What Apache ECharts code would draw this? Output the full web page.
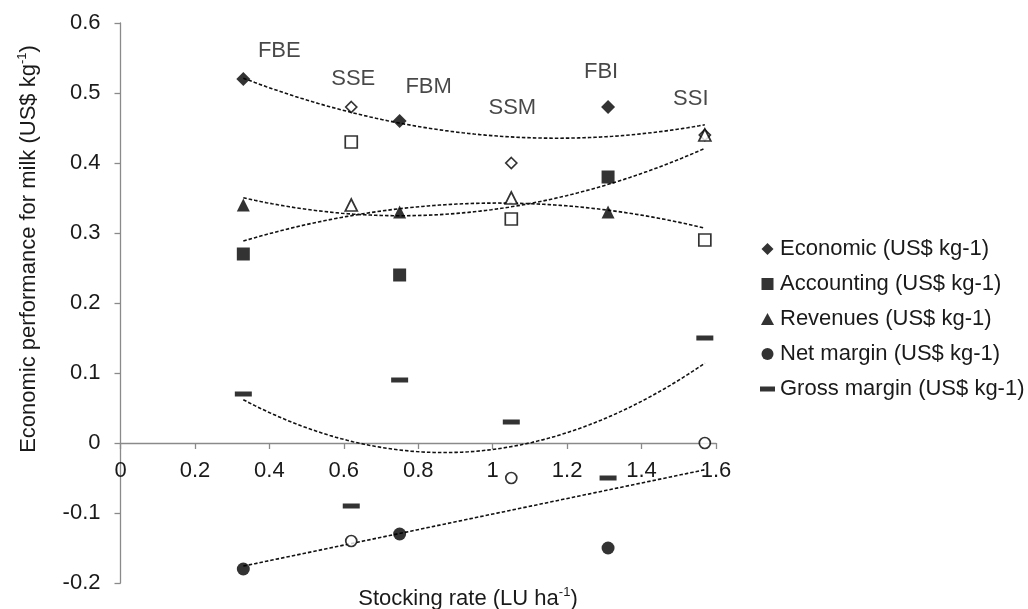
<!DOCTYPE html>
<html>
<head>
<meta charset="utf-8">
<script src="https://cdn.jsdelivr.net/npm/echarts@6/dist/echarts.min.js"></script>
<style>
  html, body { margin: 0; padding: 0; background: #ffffff; }
  #chart { width: 1028px; height: 609px; }
</style>
</head>
<body>
<div id="chart"></div>
<script>
// Farming systems: FB* drawn with filled markers, SS* with open markers
const systems = ['FBE', 'SSE', 'FBM', 'SSM', 'FBI', 'SSI'];
const stockingRate = [0.33, 0.62, 0.75, 1.05, 1.31, 1.57];

// Economic indicators per system (US$ per kg of milk)
const economic    = [0.52, 0.48, 0.46, 0.40, 0.48, 0.44];
const accounting  = [0.27, 0.43, 0.24, 0.32, 0.38, 0.29];
const revenues    = [0.34, 0.34, 0.33, 0.35, 0.33, 0.44];
const netMargin   = [-0.18, -0.14, -0.13, -0.05, -0.15, 0.00];
const grossMargin = [0.07, -0.09, 0.09, 0.03, -0.05, 0.15];

// Axis ranges and tick steps
const xRange = [0, 1.6];
const xStep = 0.2;
const yRange = [-0.2, 0.6];
const yStep = 0.1;

// Pixel offsets of the system names, placed around the Economic points
const systemLabelOffsets = [[36, -28], [2, -28], [29, -34], [1, -55], [-7, -35], [-14, -36]];

const FONT = '"Liberation Sans", Arial, sans-serif';
const TEXT = '#1a1a1a';
const AXIS = '#8a8a8a';

const GRID = { left: 120.5, right: 312, top: 23, bottom: 26 };
const CHART_H = 609;

// Least-squares polynomial fit (normal equations + Gaussian elimination)
function polyFit(xs, ys, degree) {
  const n = degree + 1;
  const A = Array.from({ length: n }, () => new Array(n).fill(0));
  const b = new Array(n).fill(0);
  xs.forEach((x, i) => {
    for (let r = 0; r < n; r++) {
      b[r] += ys[i] * Math.pow(x, r);
      for (let c = 0; c < n; c++) A[r][c] += Math.pow(x, r + c);
    }
  });
  for (let k = 0; k < n; k++) {
    let p = k;
    for (let r = k + 1; r < n; r++) if (Math.abs(A[r][k]) > Math.abs(A[p][k])) p = r;
    [A[k], A[p]] = [A[p], A[k]];
    [b[k], b[p]] = [b[p], b[k]];
    for (let r = k + 1; r < n; r++) {
      const f = A[r][k] / A[k][k];
      for (let c = k; c < n; c++) A[r][c] -= f * A[k][c];
      b[r] -= f * b[k];
    }
  }
  const coef = new Array(n).fill(0);
  for (let k = n - 1; k >= 0; k--) {
    let s = b[k];
    for (let c = k + 1; c < n; c++) s -= A[k][c] * coef[c];
    coef[k] = s / A[k][k];
  }
  return coef;
}

function trendCurve(xs, ys, degree) {
  const coef = polyFit(xs, ys, degree);
  const x0 = Math.min(...xs), x1 = Math.max(...xs);
  const steps = 80;
  const pts = [];
  for (let i = 0; i <= steps; i++) {
    const x = x0 + (x1 - x0) * i / steps;
    let y = 0;
    coef.forEach((c, p) => { y += c * Math.pow(x, p); });
    pts.push([x, y]);
  }
  return pts;
}

// Legend icons as paths so each keeps its own proportions
const ICONS = {
  diamond: 'path://M6,0L12,6L6,12L0,6Z',
  square: 'path://M0,0H12V12H0Z',
  triangle: 'path://M6,0L12,11L0,11Z',
  circle: 'path://M0,6A6,6 0 1,0 12,6A6,6 0 1,0 0,6Z',
  dash: 'path://M0,0H15V5H0Z'
};

const indicators = [
  { name: 'Economic (US$ kg-1)',     values: economic,    symbol: 'diamond',  size: 14,      openSize: 11, hollow: true,  icon: ICONS.diamond,  degree: 2 },
  { name: 'Accounting (US$ kg-1)',   values: accounting,  symbol: 'rect',     size: 13,      openSize: 12, hollow: true,  icon: ICONS.square,   degree: 2 },
  { name: 'Revenues (US$ kg-1)',     values: revenues,    symbol: 'triangle', size: 13,      openSize: 12, hollow: true,  icon: ICONS.triangle, degree: 2 },
  { name: 'Net margin (US$ kg-1)',   values: netMargin,   symbol: 'circle',   size: 13,      openSize: 11, hollow: true,  icon: ICONS.circle,   degree: 1 },
  { name: 'Gross margin (US$ kg-1)', values: grossMargin, symbol: 'rect',     size: [17, 5], openSize: null, hollow: false, icon: ICONS.dash,   degree: 2 }
];

const isOpen = (i) => systems[i].startsWith('SS');

const markerSeries = indicators.map((ind, si) => ({
  name: ind.name,
  type: 'scatter',
  z: 3,
  symbol: ind.symbol,
  symbolSize: ind.size,
  itemStyle: { color: '#000000' },
  data: ind.values.map((v, i) => {
    const item = { value: [stockingRate[i], v] };
    if (ind.hollow && isOpen(i)) {
      item.symbolSize = ind.openSize;
      item.itemStyle = { color: '#ffffff', borderColor: '#000000', borderWidth: 1.7 };
    }
    if (si === 0) {
      item.label = {
        show: true,
        position: 'inside',
        offset: systemLabelOffsets[i],
        formatter: systems[i],
        fontFamily: FONT,
        fontSize: 22,
        color: TEXT
      };
    }
    return item;
  })
}));

const trendSeries = indicators.map((ind) => ({
  name: ind.name + ' trend',
  type: 'line',
  z: 2,
  showSymbol: false,
  silent: true,
  smooth: false,
  lineStyle: { color: '#111111', width: 1.6, type: [3.5, 2] },
  data: trendCurve(stockingRate, ind.values, ind.degree)
}));

// The horizontal axis (line, ticks and labels) sits on y = 0
const plotHeight = CHART_H - GRID.top - GRID.bottom;
const zeroLift = plotHeight * (0 - yRange[0]) / (yRange[1] - yRange[0]);

const chart = echarts.init(document.getElementById('chart'), null, { renderer: 'canvas' });

chart.setOption({
  animation: false,
  backgroundColor: '#ffffff',
  grid: {
    left: GRID.left, right: GRID.right, top: GRID.top, bottom: GRID.bottom,
    containLabel: false,
    outerBoundsMode: 'none'
  },
  xAxis: {
    type: 'value',
    min: xRange[0],
    max: xRange[1],
    interval: xStep,
    position: 'bottom',
    offset: -zeroLift,
    axisLine: { show: true, onZero: false, lineStyle: { color: AXIS, width: 1.3 } },
    axisTick: { show: true, inside: false, length: 6, lineStyle: { color: AXIS, width: 1.3 } },
    axisLabel: { fontFamily: FONT, fontSize: 22, color: TEXT, margin: 17 },
    splitLine: { show: false }
  },
  yAxis: {
    type: 'value',
    min: yRange[0],
    max: yRange[1],
    interval: yStep,
    axisLine: { show: true, onZero: false, lineStyle: { color: AXIS, width: 1.3 } },
    axisTick: { show: true, inside: false, length: 6, lineStyle: { color: AXIS, width: 1.3 } },
    axisLabel: { fontFamily: FONT, fontSize: 22, color: TEXT, margin: 20 },
    splitLine: { show: false }
  },
  legend: {
    orient: 'vertical',
    left: 755,
    top: 233,
    itemWidth: 15,
    itemHeight: 12,
    itemGap: 13,
    symbolKeepAspect: true,
    selectedMode: false,
    textStyle: { fontFamily: FONT, fontSize: 22, color: TEXT, lineHeight: 22 },
    data: indicators.map((ind) => ({ name: ind.name, icon: ind.icon, itemStyle: { color: '#000000' } }))
  },
  graphic: [
    {
      type: 'text',
      x: 27,
      y: 249,
      rotation: Math.PI / 2,
      style: {
        text: '{a|Economic performance for milk (US$ kg}{s|-1}{a|)}',
        align: 'center',
        verticalAlign: 'middle',
        fill: TEXT,
        rich: {
          a: { fontFamily: FONT, fontSize: 22, lineHeight: 26, fill: TEXT, verticalAlign: 'bottom' },
          s: { fontFamily: FONT, fontSize: 13, lineHeight: 26, fill: TEXT, verticalAlign: 'top', padding: [2, 0, 0, 0] }
        }
      }
    },
    {
      type: 'text',
      x: 468,
      y: 597,
      style: {
        text: '{a|Stocking rate (LU ha}{s|-1}{a|)}',
        align: 'center',
        verticalAlign: 'middle',
        fill: TEXT,
        rich: {
          a: { fontFamily: FONT, fontSize: 22, lineHeight: 26, fill: TEXT, verticalAlign: 'bottom' },
          s: { fontFamily: FONT, fontSize: 13, lineHeight: 26, fill: TEXT, verticalAlign: 'top', padding: [2, 0, 0, 0] }
        }
      }
    }
  ],
  series: [...trendSeries, ...markerSeries]
});
</script>
</body>
</html>
